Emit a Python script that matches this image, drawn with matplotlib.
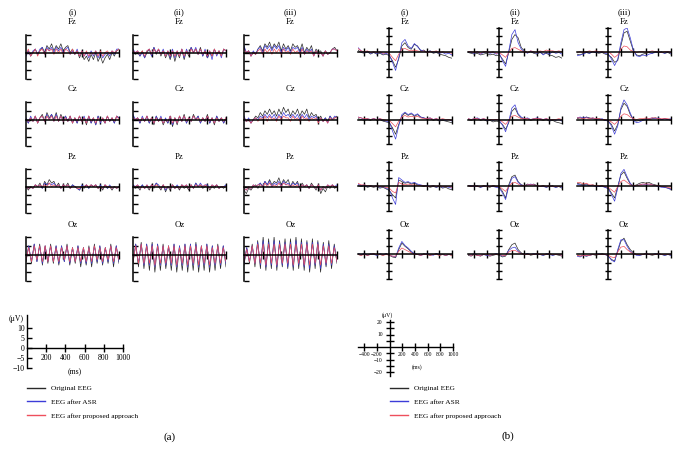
import numpy as np
import matplotlib.pyplot as plt
from matplotlib.lines import Line2D

plt.rcParams['font.family'] = ['Liberation Serif', 'DejaVu Serif']

# ---- (a) resting-state segments, 0..1000 ms, uV ----
a_fz1_org = [-1, 1, -2, 0, 2, -1, 1, 3, 0, 4, 2, 5, 1, 4, 2, 5, 1, 3, 4, 0, 2, -1, 1, -3, 0, -4, -2, -5, -1, -4, 0, -5, -2, -6, -3, -1, -4, 0, -2, 1, 2]
a_fz1_asr = [-2, 1, -2, 1, 2, -1, 2, 3, -1, 3, 1, 3, 0, 3, 1, 3, 0, 2, 3, -1, 1, -1, 2, -2, 1, -2, 0, -3, 1, -2, 1, -3, 0, -3, -1, 0, -2, 1, -1, 2, 2]
a_fz1_new = [-1, 2, -2, 0, 2, -2, 1, 2, -1, 2, 1, 2, -1, 2, 0, 2, -1, 2, 1, -1, 2, -1, 1, -2, 1, -2, 1, -2, 0, -1, 1, -2, 1, -2, 0, 1, -1, 1, 0, 1, 2]

a_fz2_org = [1, -1, 0, -2, 1, -3, 0, 2, -2, 3, -1, 2, -2, 1, -3, 0, -4, 1, -5, 0, -3, 2, -4, 1, -2, 3, 0, 2, -1, 3, -2, 1, -3, 0, -2, 2, -1, 1, -2, 2, 1]
a_fz2_asr = [2, 0, 1, -2, 0, -3, 1, 2, -2, 3, 0, 2, -1, 2, -2, 1, -3, 2, -3, 1, -2, 2, -3, 2, -1, 3, 0, 3, -1, 2, -2, 2, -3, 1, -4, 2, -2, 1, -3, 2, 1]
a_fz2_new = [1, 0, 1, -1, 1, -2, 1, 2, -1, 2, 0, 2, -1, 1, -2, 1, -2, 1, -2, 1, -2, 2, -2, 1, -1, 2, 0, 2, -1, 2, -1, 1, -2, 1, -2, 2, -1, 1, -2, 2, 1]

a_fz3_org = [3, 0, 1, -2, 0, -1, 2, 4, 1, 5, 3, 6, 2, 5, 3, 6, 1, 5, 2, 4, 1, 5, 3, 4, 1, 5, 0, 3, 1, 4, -1, 2, 0, 1, -2, 1, -1, 0, 2, 3, 1]
a_fz3_asr = [4, 0, 1, -2, 1, -1, 2, 3, 0, 4, 2, 4, 1, 4, 2, 4, 0, 3, 1, 3, 0, 3, 2, 3, 0, 3, -1, 2, 0, 2, -2, 1, -1, 0, -2, 1, -1, 0, 2, 2, 1]
a_fz3_new = [2, 0, 1, -2, 0, -1, 1, 2, -1, 2, 0, 2, -1, 2, 0, 2, -1, 2, 0, 1, -1, 2, 0, 1, -1, 2, -1, 1, 0, 1, -2, 1, -1, 0, -2, 1, -1, 0, 2, 2, 1]

a_cz1_org = [0, -2, 1, -1, 2, -2, 1, 3, -1, 4, 1, 3, 0, 4, -1, 3, 0, 2, -1, 2, -2, 1, -2, 2, -1, 1, -3, 2, -2, 1, -3, 2, -1, 0, -2, 2, -1, 1, -2, 2, 1]
a_cz1_asr = [1, -2, 2, -1, 2, -2, 1, 2, -1, 3, 0, 3, -1, 3, -1, 2, -1, 2, -1, 2, -2, 1, -2, 2, -1, 2, -2, 2, -2, 1, -3, 2, -2, 1, -2, 2, -1, 1, -2, 2, 1]
a_cz1_new = [0, -1, 1, -1, 2, -2, 1, 2, -1, 2, 0, 2, -1, 2, -1, 2, -1, 1, -1, 2, -2, 1, -1, 2, -1, 1, -2, 2, -1, 1, -2, 1, -1, 1, -2, 2, -1, 1, -1, 2, 0]

a_cz2_org = [2, 0, 1, -2, 1, -1, 2, -2, 1, -3, 2, -1, 1, -3, 0, -2, 2, -4, 1, -3, 2, -1, 3, -2, 1, -1, 3, 0, 2, -2, 1, -1, 3, -2, 1, -3, 2, -1, 1, -2, 1]
a_cz2_asr = [3, 0, 1, -2, 2, -1, 2, -2, 1, -2, 2, -1, 2, -2, 1, -2, 2, -3, 1, -2, 2, -1, 2, -2, 1, -1, 2, 0, 2, -2, 1, -1, 2, -2, 1, -2, 2, -1, 1, -2, 1]
a_cz2_new = [1, 0, 1, -1, 1, -1, 2, -1, 1, -2, 1, -1, 1, -2, 0, -1, 2, -2, 1, -2, 2, -1, 2, -1, 1, -1, 2, 0, 1, -1, 1, -1, 2, -1, 1, -2, 1, -1, 1, -1, 1]

a_cz3_org = [1, -1, 0, -2, 0, 2, 1, 4, 2, 5, 3, 6, 3, 5, 2, 6, 3, 7, 4, 6, 2, 5, 3, 6, 2, 5, 3, 6, 1, 4, 2, 3, 0, 2, -1, 1, -1, 2, 0, 1, 2]
a_cz3_asr = [2, -1, 1, -2, 0, 1, 0, 2, 1, 3, 1, 3, 1, 3, 0, 3, 1, 4, 2, 3, 1, 3, 1, 3, 0, 3, 1, 3, 0, 2, 1, 2, -1, 1, -1, 1, -2, 2, 0, 2, 1]
a_cz3_new = [1, -1, 0, -2, 0, 1, -1, 1, 0, 2, -1, 2, 0, 1, -1, 2, 0, 2, 1, 1, -1, 2, 0, 1, -1, 2, 0, 1, -1, 1, 0, 1, -2, 1, -1, 0, -2, 1, 0, 1, 1]

a_pz1_org = [0, -2, 0, -1, 1, 0, 2, -1, 3, 1, 4, 2, 3, 0, 2, -1, 1, 0, 2, -1, 1, 0, -1, -2, 0, -1, 1, -1, 1, 0, 1, -1, 0, -2, 1, -1, 0, -2, 0, -1, 0]
a_pz1_asr = [0, -1, 0, -1, 1, 0, 1, -1, 2, 1, 2, 1, 2, 0, 1, -1, 1, 0, 1, -1, 1, 0, -1, -2, 1, 0, 1, -1, 1, 0, 1, -1, 1, -1, 1, -1, 1, -1, 0, -1, 0]
a_pz1_new = [0, -1, 0, -1, 1, 0, 1, 0, 1, 0, 2, 0, 1, 0, 1, -1, 1, 0, 1, -1, 0, 0, -1, -1, 0, 0, 1, 0, 1, 0, 1, -1, 0, -1, 1, 0, 0, -1, 0, -1, 0]

a_pz2_org = [1, -1, 0, -2, 1, -1, 0, -2, 1, -1, 2, 0, -2, 1, -3, 0, -2, 1, -1, 0, -2, 1, -1, 0, -2, 1, -1, 2, 0, 1, -1, 0, 1, -2, 0, -1, 1, -1, 0, -1, 1]
a_pz2_asr = [1, 0, 1, -1, 1, -1, 1, -1, 1, 0, 2, 1, -1, 1, -2, 0, -1, 1, -1, 1, -1, 1, 0, 1, -1, 1, -1, 2, 0, 2, 0, 1, 1, -1, 1, 0, 1, -1, 0, 0, 1]
a_pz2_new = [0, 0, 1, -1, 0, -1, 1, -1, 1, 0, 1, 0, -1, 1, -1, 0, -1, 1, -1, 0, -1, 1, 0, 1, -1, 1, -1, 1, 0, 1, 0, 1, 0, -1, 1, 0, 1, -1, 0, 0, 0]

a_pz3_org = [-2, -4, -1, -2, 0, 1, -1, 2, 0, 3, 1, 4, 1, 3, 2, 5, 1, 4, 2, 4, 0, 3, 1, 3, -1, 2, 0, 1, -1, 2, 0, -2, 1, -4, -1, -3, 0, -1, 1, -1, 0]
a_pz3_asr = [-1, -2, 0, -1, 1, 0, 1, 2, 0, 3, 1, 3, 0, 2, 1, 3, 0, 3, 1, 2, 0, 2, 1, 2, -1, 1, 0, 1, -1, 1, 0, -1, 1, -2, 0, -1, 1, 0, 1, 0, 1]
a_pz3_new = [-1, -2, 0, -1, 1, 0, 1, 1, 0, 2, 0, 2, 0, 1, 0, 2, 0, 2, 1, 1, 0, 1, 0, 1, -1, 1, 0, 1, -1, 1, 0, -1, 1, -2, 0, -1, 1, 0, 1, 0, 0]

a_oz1_org = [-4, 5, -5, 6, -4, 6, -6, 5, -5, 6, -5, 5, -6, 5, -4, 6, -6, 4, -5, 5, -7, 4, -6, 5, -7, 6, -5, 5, -6, 4, -5, 6, -7, 5, -5]
a_oz1_asr = [-3, 5, -4, 6, -4, 5, -5, 5, -4, 5, -4, 5, -5, 5, -4, 5, -5, 4, -4, 5, -5, 4, -5, 4, -5, 5, -4, 5, -5, 4, -4, 5, -5, 5, -4]
a_oz1_new = [-3, 4, -4, 5, -3, 5, -4, 5, -4, 5, -4, 4, -4, 4, -3, 5, -4, 4, -4, 4, -4, 4, -4, 4, -4, 5, -3, 4, -4, 4, -3, 5, -4, 4, -3]

a_oz2_org = [-5, 6, -7, 7, -8, 6, -9, 7, -10, 6, -9, 6, -8, 5, -9, 6, -10, 5, -9, 6, -10, 6, -9, 7, -10, 5, -9, 6, -10, 5, -9, 6, -8, 5, -7]
a_oz2_asr = [-4, 6, -5, 6, -6, 6, -6, 6, -7, 6, -6, 5, -6, 5, -6, 6, -7, 5, -6, 6, -7, 6, -6, 6, -7, 5, -6, 6, -7, 5, -6, 5, -6, 5, -5]
a_oz2_new = [-4, 5, -5, 6, -5, 5, -5, 5, -6, 5, -5, 5, -5, 5, -5, 5, -6, 4, -5, 5, -6, 5, -5, 5, -6, 5, -5, 5, -6, 4, -5, 5, -5, 4, -4]

a_oz3_org = [-6, 4, -5, 6, -7, 8, -8, 10, -9, 9, -8, 10, -9, 8, -7, 9, -8, 9, -9, 10, -8, 9, -9, 8, -10, 9, -8, 8, -10, 7, -7, 8, -8, 6, -5]
a_oz3_asr = [-5, 4, -4, 5, -5, 7, -6, 8, -7, 7, -6, 8, -7, 7, -6, 7, -7, 7, -7, 8, -6, 7, -7, 7, -8, 7, -6, 7, -8, 6, -6, 6, -6, 5, -4]
a_oz3_new = [-4, 3, -4, 5, -5, 6, -5, 6, -6, 6, -5, 6, -6, 6, -5, 6, -5, 6, -6, 6, -5, 6, -6, 6, -6, 6, -5, 6, -6, 5, -5, 5, -5, 4, -4]

# ---- (b) ERP averages, -500..1000 ms in 50 ms steps, uV ----
b_fz1_org = [3, 0, -1, 1, -2, 0, -2, -1, -3, -2, -4, -10, -18, -8, 8, 12, 6, 4, 10, 8, 2, 3, 0, 2, -1, 0, -2, -3, -4, -6, -7]
b_fz1_asr = [6, 2, 0, 1, -1, 0, -1, 0, -2, -1, -3, -12, -22, -6, 12, 16, 8, 5, 11, 7, 3, 2, 0, 2, 0, 1, -1, 0, -2, -1, -3]
b_fz1_new = [5, 2, 1, 2, 0, 1, 0, 1, -1, 0, -1, -6, -10, -2, 4, 5, 3, 2, 3, 2, 1, 2, 0, 1, 1, 2, 0, 1, 0, 0, -1]

b_fz2_org = [0, -1, -2, -1, -3, -2, -1, -3, -2, -4, -3, -8, -14, 0, 16, 22, 18, 6, 2, 0, 1, -1, -2, 0, -2, -1, -3, -4, -6, -5, -7]
b_fz2_asr = [1, 0, -1, 1, -2, 0, 1, -1, 0, -2, -1, -10, -17, 2, 22, 28, 12, 4, 1, -1, 2, 0, -1, 1, -3, 0, -2, 1, -1, 0, -2]
b_fz2_new = [1, 1, 0, 1, -1, 1, 1, 0, 1, -1, 0, -3, -6, 0, 5, 6, 4, 2, 1, 0, 2, 1, 0, 2, 1, 3, 2, 2, 1, 2, 1]

b_fz3_org = [-2, -3, -1, 0, -1, 1, 0, -1, 0, -2, -3, -6, -12, -10, 8, 24, 26, 14, 2, -3, -4, -2, -1, 0, -1, 1, 0, 1, -1, 0, -2]
b_fz3_asr = [-4, -3, -2, 0, -1, 1, 0, 0, 1, -1, -2, -8, -16, -8, 12, 28, 30, 18, 3, -4, -5, -3, -4, -2, -1, 0, 1, 0, -1, 1, -1]
b_fz3_new = [0, 1, 0, 1, 2, 1, 2, 1, 1, 0, 1, -2, -6, -3, 4, 8, 7, 3, 1, 0, 1, 1, 0, 1, 2, 1, 1, 0, 1, 1, 0]

b_cz1_org = [1, 0, -1, 0, -1, 1, -1, 0, -2, -3, -4, -10, -18, -6, 4, 8, 5, 7, 4, 6, 3, 2, 0, 1, -1, 0, -2, -1, -2, -3, -4]
b_cz1_asr = [3, 2, 0, 1, 0, 1, 0, 1, -1, -2, -3, -14, -24, -8, 6, 9, 6, 8, 5, 7, 3, 2, 1, 2, 0, 1, -1, 0, -1, 0, -2]
b_cz1_new = [3, 2, 1, 1, 0, 1, 0, 1, 0, -1, -1, -5, -9, -2, 3, 5, 3, 4, 3, 4, 2, 1, 1, 2, 0, 1, 0, 1, 0, 0, -1]

b_cz2_org = [0, -1, 0, 1, -1, 0, -2, -1, -3, -2, -3, -6, -12, -4, 10, 14, 6, 2, 0, 1, -1, 0, 1, 0, -1, 0, -2, -1, -3, -4, -5]
b_cz2_asr = [1, 0, 1, 2, 0, 1, -1, 0, -1, 0, -1, -7, -15, -2, 14, 18, 7, 3, 1, 2, 0, 1, 2, 1, 0, 1, -1, 0, -1, 0, -2]
b_cz2_new = [1, 0, 1, 1, 0, 1, 0, 0, 0, 0, 0, -3, -6, -1, 4, 5, 3, 1, 1, 1, 0, 1, 1, 1, 0, 1, 0, 0, 0, 1, 0]

b_cz3_org = [1, 2, 1, 3, 2, 1, 0, 1, 0, -1, -2, -6, -14, -6, 12, 20, 16, 6, 0, -2, -1, 0, 1, 0, 1, 2, 1, 0, 1, 0, -1]
b_cz3_asr = [2, 3, 2, 3, 1, 2, 1, 0, 1, -1, -2, -8, -18, -8, 14, 24, 18, 8, -1, -4, -3, -1, 0, 1, 2, 1, 2, 0, 1, 0, 1]
b_cz3_new = [2, 2, 1, 2, 1, 2, 1, 1, 0, 0, -1, -3, -6, -2, 4, 7, 6, 3, 1, 0, 1, 1, 2, 1, 2, 2, 1, 1, 1, 1, 0]

b_pz1_org = [1, 0, 1, -1, 0, -1, 0, -2, -1, -3, -5, -10, -14, 8, 6, 4, 5, 3, 4, 2, 1, 0, 1, -1, 0, -1, 0, -2, -1, -3, -4]
b_pz1_asr = [3, 1, 2, 0, 1, 0, 1, -1, 0, -2, -4, -14, -22, 11, 8, 5, 6, 4, 5, 3, 2, 1, 1, 0, 1, -1, 1, -1, 0, -1, -2]
b_pz1_new = [4, 2, 2, 1, 1, 0, 1, 0, 0, -1, -2, -6, -8, 5, 3, 2, 3, 2, 2, 1, 1, 1, 0, 0, 1, 0, 1, 0, 0, 0, -1]

b_pz2_org = [1, 0, 1, 0, -1, 1, 0, -1, 1, 0, -1, -6, -14, 2, 12, 14, 6, 2, 1, 3, 2, 3, 1, 0, 1, -1, 0, 1, -1, 0, -2]
b_pz2_asr = [1, 1, 0, 1, -1, 0, 1, 0, 0, -1, -2, -8, -16, 0, 10, 12, 5, 2, 1, 2, 3, 2, 1, 0, 0, -1, 1, 0, -1, 0, -1]
b_pz2_new = [1, 0, 1, 0, 0, 1, 0, 0, 1, 0, 0, -3, -6, 0, 4, 5, 3, 1, 1, 2, 2, 2, 1, 0, 1, 0, 1, 0, 0, 0, 0]

b_pz3_org = [4, 3, 2, 3, 1, 2, 1, 0, 1, -1, -2, -8, -14, 0, 14, 18, 10, 3, 1, 2, 4, 5, 4, 5, 3, 2, 1, 0, -1, -2, -3]
b_pz3_asr = [3, 2, 1, 2, 1, 1, 0, 0, 0, -1, -3, -10, -18, -2, 16, 21, 12, 4, 0, 1, 2, 3, 2, 3, 2, 1, 0, -1, -1, -2, -4]
b_pz3_new = [5, 5, 3, 4, 2, 2, 1, 1, 1, 0, -1, -4, -7, 0, 6, 8, 5, 2, 1, 1, 2, 3, 3, 3, 2, 1, 1, 0, 0, -1, -2]

b_oz1_org = [0, -1, 1, -1, 0, 1, -1, 0, -1, 1, -1, -3, -4, 6, 14, 10, 7, 3, 1, 0, -1, 1, 0, -1, 0, 1, -1, 0, -1, 0, -1]
b_oz1_asr = [1, 0, 1, -1, 1, 0, -1, 1, 0, 1, -1, -2, -3, 8, 16, 11, 8, 4, 1, 0, -1, 0, 1, 0, -1, 1, 0, 0, -1, 0, 0]
b_oz1_new = [0, -1, 0, -1, 0, 1, 0, 0, -1, 0, -1, -2, -2, 4, 8, 6, 4, 2, 0, 0, -1, 0, 0, -1, 0, 0, -1, 0, -1, 0, -1]

b_oz2_org = [-1, -2, 0, -1, -2, 0, -1, -2, -1, 0, -1, -3, -2, 6, 12, 14, 6, 2, 0, 1, -1, 0, 1, 0, -1, 0, 1, -1, 0, -1, -2]
b_oz2_asr = [0, -1, 1, -1, -1, 0, -1, -1, 0, 1, 0, -2, -1, 5, 8, 9, 4, 1, 0, 1, 0, 1, 0, 0, -1, 1, 0, -1, 0, 0, -1]
b_oz2_new = [0, -1, 0, -1, -1, 0, 0, -1, 0, 0, 0, -1, -1, 3, 5, 5, 3, 1, 0, 0, 0, 0, 1, 0, 0, 0, 1, 0, 0, 0, -1]

b_oz3_org = [-1, -2, -1, -2, -1, 0, -1, 0, 1, 0, -2, -6, -8, 4, 16, 20, 12, 6, 2, 0, -1, 0, 1, 0, -1, 0, 1, 0, -1, 0, -1]
b_oz3_asr = [-2, -3, -1, -2, -1, 0, 0, 1, 0, 0, -2, -7, -9, 6, 18, 18, 10, 4, 1, -1, -1, 0, 1, 0, 0, 1, 0, 0, -1, 0, -1]
b_oz3_new = [-1, -2, -1, -1, -1, 0, 0, 0, 0, 0, -1, -3, -4, 3, 9, 10, 6, 3, 1, 0, 0, 0, 1, 0, 0, 0, 1, 0, 0, 0, 0]

channels = ['Fz', 'Cz', 'Pz', 'Oz']
conditions = ['(i)', '(ii)', '(iii)']
legend_labels = ['Original EEG', 'EEG after ASR', 'EEG after proposed approach']

a_data = [
    [(a_fz1_org, a_fz1_asr, a_fz1_new), (a_fz2_org, a_fz2_asr, a_fz2_new), (a_fz3_org, a_fz3_asr, a_fz3_new)],
    [(a_cz1_org, a_cz1_asr, a_cz1_new), (a_cz2_org, a_cz2_asr, a_cz2_new), (a_cz3_org, a_cz3_asr, a_cz3_new)],
    [(a_pz1_org, a_pz1_asr, a_pz1_new), (a_pz2_org, a_pz2_asr, a_pz2_new), (a_pz3_org, a_pz3_asr, a_pz3_new)],
    [(a_oz1_org, a_oz1_asr, a_oz1_new), (a_oz2_org, a_oz2_asr, a_oz2_new), (a_oz3_org, a_oz3_asr, a_oz3_new)],
]
b_data = [
    [(b_fz1_org, b_fz1_asr, b_fz1_new), (b_fz2_org, b_fz2_asr, b_fz2_new), (b_fz3_org, b_fz3_asr, b_fz3_new)],
    [(b_cz1_org, b_cz1_asr, b_cz1_new), (b_cz2_org, b_cz2_asr, b_cz2_new), (b_cz3_org, b_cz3_asr, b_cz3_new)],
    [(b_pz1_org, b_pz1_asr, b_pz1_new), (b_pz2_org, b_pz2_asr, b_pz2_new), (b_pz3_org, b_pz3_asr, b_pz3_new)],
    [(b_oz1_org, b_oz1_asr, b_oz1_new), (b_oz2_org, b_oz2_asr, b_oz2_new), (b_oz3_org, b_oz3_asr, b_oz3_new)],
]

colors = ['#2a2a2a', '#3c3cd8', '#ee4f5c']

W, H = 680, 465
fig = plt.figure(figsize=(W / 100, H / 100), dpi=100)


def px_box(x0, top, w, h):
    # pixel box -> figure fraction
    return [x0 / W, 1 - (top + h) / H, w / W, h / H]


def style_axes(ax, lw=1.1):
    for s in ['top', 'right']:
        ax.spines[s].set_visible(False)
    ax.spines['left'].set_linewidth(lw)
    ax.spines['bottom'].set_linewidth(lw)
    ax.patch.set_alpha(0)


a_cols = [26, 133, 244]
b_cols = [358, 468, 577]
a_tops = [35, 102, 169, 237]
b_tops = [28, 95, 162, 230]
label_y = [22, 89, 157, 225]

for r in range(4):
    for c in range(3):
        # panel (a)
        ax = fig.add_axes(px_box(a_cols[c], a_tops[r], 93, 44))
        for vals, col in zip(a_data[r][c], colors):
            ax.plot(np.linspace(0, 1000, len(vals)), vals, color=col, lw=0.5)
        ax.set_xlim(0, 1000)
        ax.set_ylim(-15, 10)
        style_axes(ax)
        ax.spines['bottom'].set_position(('data', 0))
        ax.set_xticks([200, 400, 600, 800, 1000])
        ax.set_yticks([10, 5, 0, -5, -10, -15])
        ax.tick_params(axis='x', direction='inout', length=6, width=1, labelbottom=False)
        ax.tick_params(axis='y', direction='in', length=3.5, width=1, labelleft=False)

        # panel (b)
        ax = fig.add_axes(px_box(b_cols[c], b_tops[r], 94, 49))
        for vals, col in zip(b_data[r][c], colors):
            ax.plot(np.linspace(-500, 1000, len(vals)), vals, color=col, lw=0.5)
        ax.set_xlim(-500, 1000)
        ax.set_ylim(-30, 30)
        style_axes(ax)
        ax.spines['bottom'].set_position(('data', 0))
        ax.spines['left'].set_position(('data', 0))
        ax.set_xticks([-400, -200, 200, 400, 600, 800, 1000])
        ax.set_yticks([-30, -20, -10, 10, 20, 30])
        ax.tick_params(axis='x', direction='inout', length=6, width=1, labelbottom=False)
        ax.tick_params(axis='y', direction='inout', length=5, width=1, labelleft=False)

        fig.text((a_cols[c] + 46.5) / W, 1 - label_y[r] / H, channels[r],
                 ha='center', va='center', fontsize=6.3)
        fig.text((b_cols[c] + 47) / W, 1 - label_y[r] / H, channels[r],
                 ha='center', va='center', fontsize=6.3)

for c in range(3):
    fig.text((a_cols[c] + 46.5) / W, 1 - 12 / H, conditions[c], ha='center', va='center', fontsize=6.3)
    fig.text((b_cols[c] + 47) / W, 1 - 12 / H, conditions[c], ha='center', va='center', fontsize=6.3)

# ---- scale bar (a) ----
ax = fig.add_axes(px_box(27, 315, 96, 53))
ax.set_xlim(0, 1000)
ax.set_ylim(-10, 16.5)
style_axes(ax, lw=1.0)
ax.spines['bottom'].set_position(('data', 0))
ax.set_xticks([200, 400, 600, 800, 1000])
ax.set_yticks([10, 5, 0, -5, -10])
ax.set_yticklabels(['10', '5', '0', '\u22125', '\u221210'])
ax.tick_params(axis='x', direction='inout', length=6, width=1, labelsize=5.6, pad=1)
ax.tick_params(axis='y', direction='in', length=3.5, width=1, labelsize=5.6, pad=1.5)
ax.text(-0.03, 1.0, '(\u03bcV)', transform=ax.transAxes, ha='right', va='top', fontsize=5.6)
ax.text(0.5, -0.08, '(ms)', transform=ax.transAxes, ha='center', va='center', fontsize=5.6)

# ---- scale bar (b) ----
ax = fig.add_axes(px_box(358, 320, 95, 56))
ax.set_xlim(-500, 1000)
ax.set_ylim(-23.2, 21.6)
style_axes(ax, lw=1.0)
ax.spines['bottom'].set_position(('data', 0))
ax.spines['left'].set_position(('data', 0))
ax.set_xticks([-400, -200, 200, 400, 600, 800, 1000])
ax.set_xticklabels(['\u2212400', '\u2212200', '200', '400', '600', '800', '1000'])
ax.set_yticks([20, 10, -10, -20])
ax.set_yticklabels(['20', '10', '\u221210', '\u221220'])
ax.set_yticks([15, 5, -5, -15], minor=True)
ax.tick_params(axis='x', direction='inout', length=6, width=1, labelsize=4.0, pad=0.8)
ax.tick_params(axis='y', which='both', direction='inout', length=6, width=1, labelsize=4.0, pad=2)
ax.text(0.31, 1.09, '(\u03bcV)', transform=ax.transAxes, ha='center', va='center', fontsize=4.2)
ax.text(0.62, 0.16, '(ms)', transform=ax.transAxes, ha='center', va='center', fontsize=4.2)

# ---- legends ----
handles = [Line2D([], [], color=col, lw=1.0) for col in colors]
for x_left in (27, 390):
    fig.legend(handles, legend_labels, loc='upper left',
               bbox_to_anchor=(x_left / W, 1 - 385 / H), frameon=False,
               fontsize=5.3, handlelength=2.4, handletextpad=0.9,
               labelspacing=1.05, borderpad=0, borderaxespad=0)

fig.text(170 / W, 1 - 437 / H, '(a)', ha='center', va='center', fontsize=8)
fig.text(508 / W, 1 - 436 / H, '(b)', ha='center', va='center', fontsize=8)

plt.savefig('out.png', dpi=100)
